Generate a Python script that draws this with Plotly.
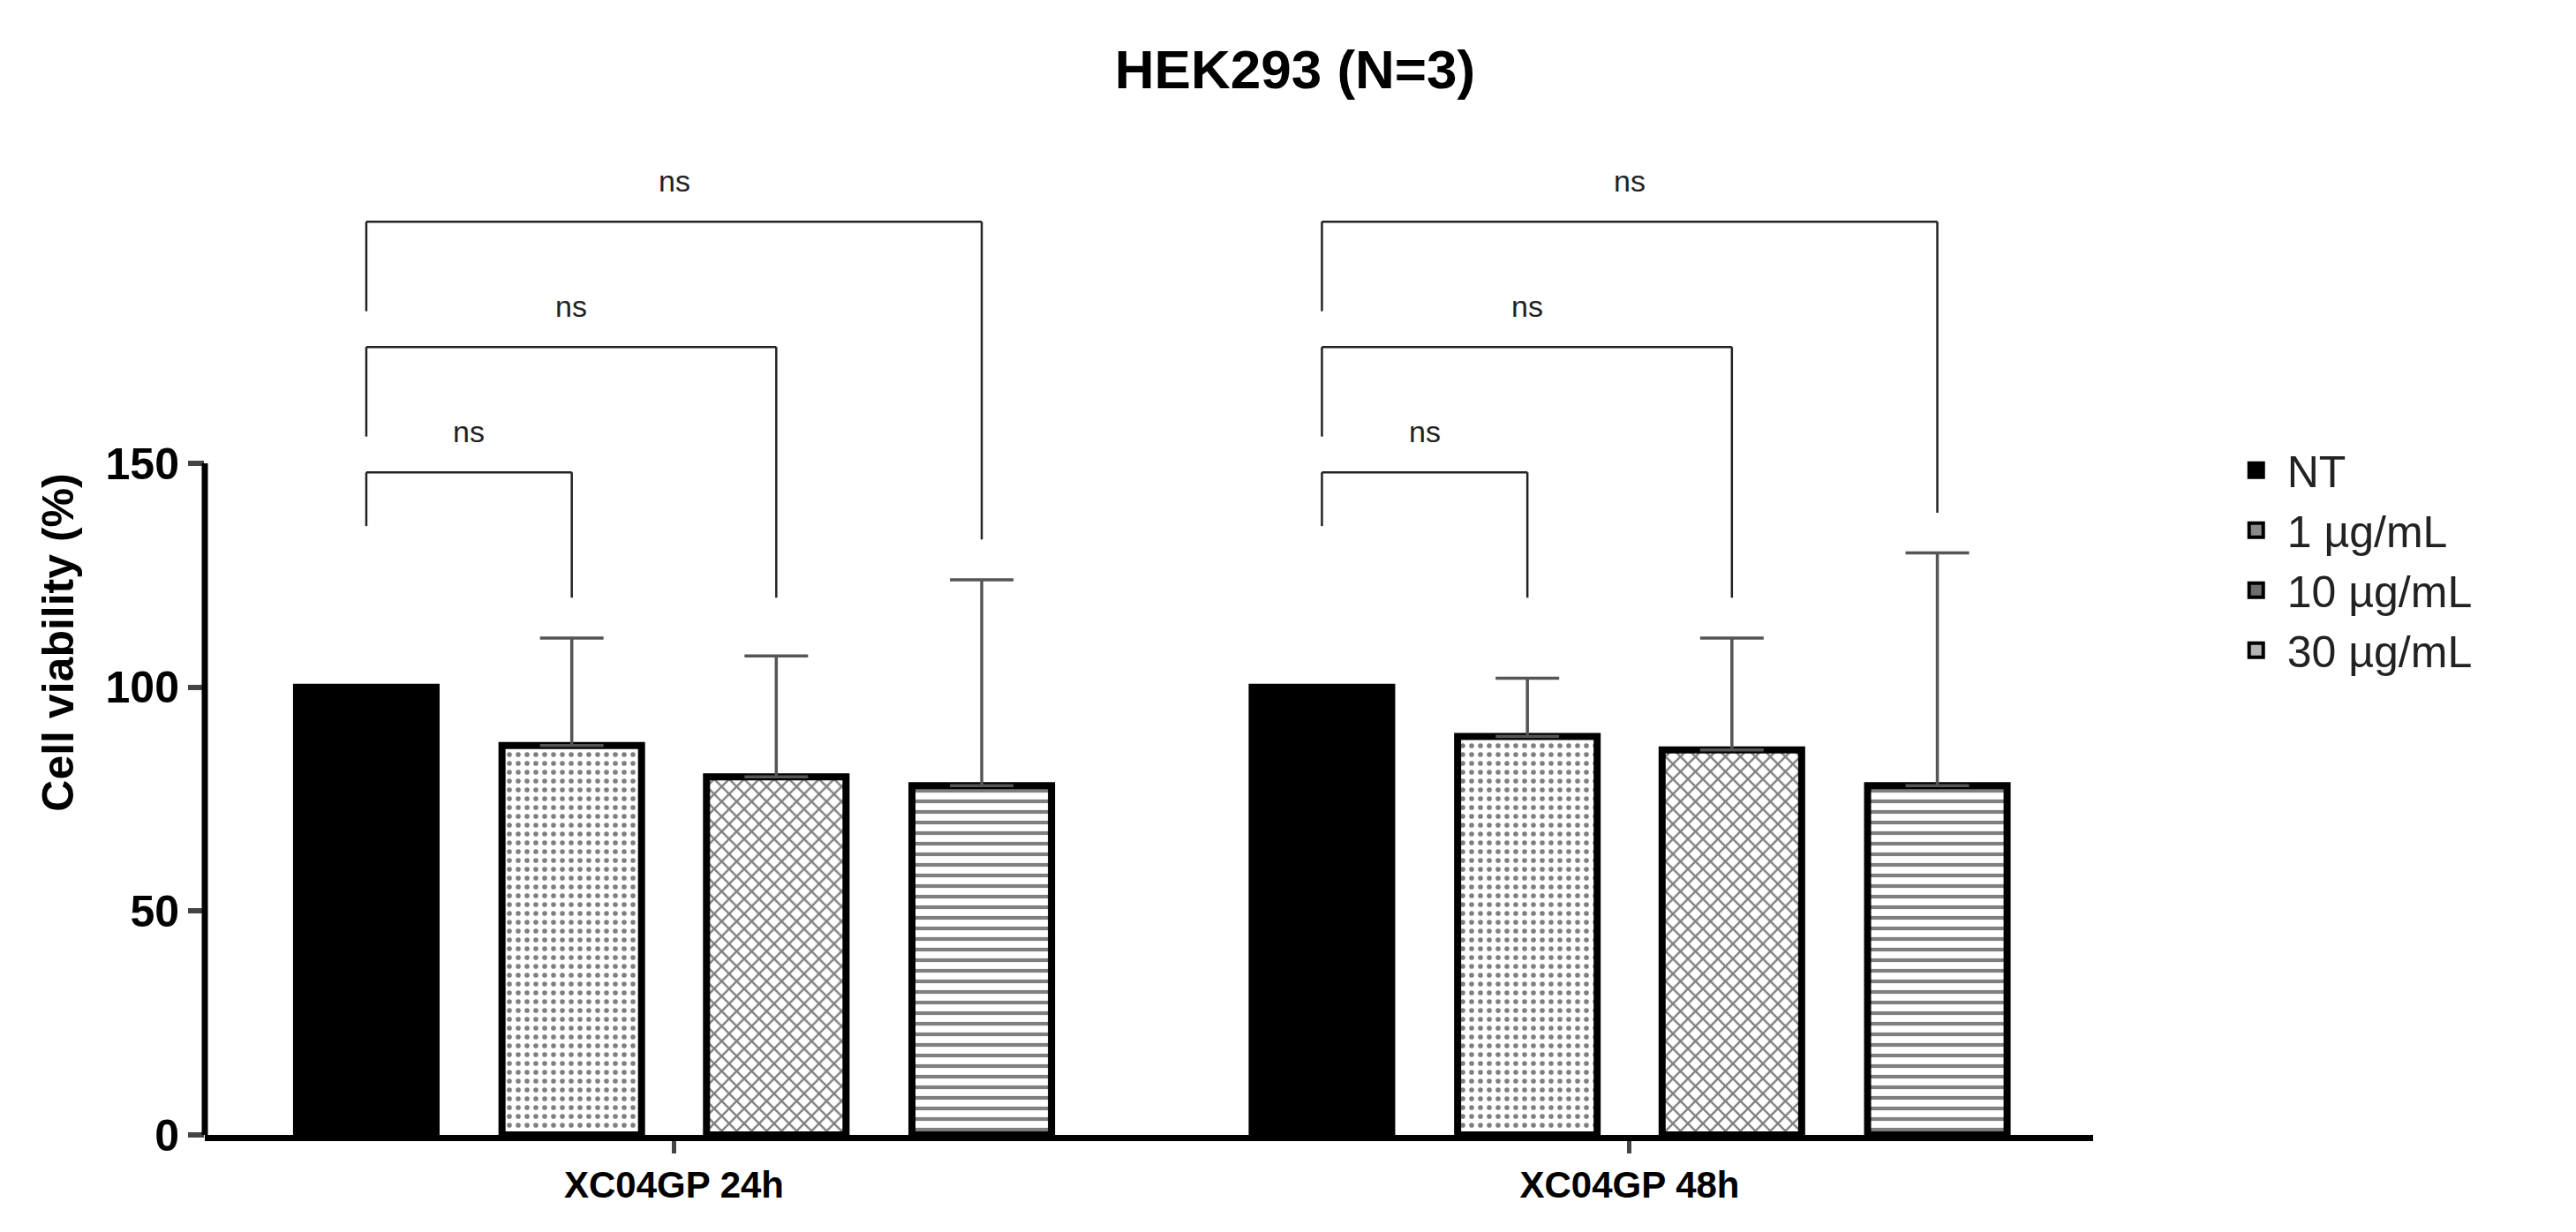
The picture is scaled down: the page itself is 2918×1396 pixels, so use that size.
import plotly.graph_objects as go

groups = ["XC04GP 24h", "XC04GP 48h"]
series = ["NT", "1 µg/mL", "10 µg/mL", "30 µg/mL"]
means = {"NT": [100, 100], "1 µg/mL": [87, 89], "10 µg/mL": [80, 86], "30 µg/mL": [78, 78]}
sds = {"NT": [0, 0], "1 µg/mL": [24, 13], "10 µg/mL": [27, 25], "30 µg/mL": [46, 52]}
legend_colors = ["black", "#8a8a8a", "#6e6e6e", "#b4b4b4"]
offsets = [-0.322, -0.107, 0.107, 0.322]
patterns = ["", ".", "x", "-"]
# brackets: (group, target index, bracket y, left leg bottom, right leg bottom)
brackets = [(0, 1, 148, 136, 120), (0, 2, 176, 156, 120), (0, 3, 204, 184, 133),
            (1, 1, 148, 136, 120), (1, 2, 176, 156, 120), (1, 3, 204, 184, 139)]

fig = go.Figure()
for i, s in enumerate(series):
    xs = [g + offsets[i] for g in range(len(groups))]
    fig.add_trace(go.Bar(
        x=xs, y=means[s], name=s, width=0.146, showlegend=False,
        marker=dict(color="black" if i == 0 else "white",
                    line=dict(color="black", width=8),
                    pattern=dict(shape=patterns[i], fgcolor="black", bgcolor="white",
                                 size=10 if i == 1 else 12, solidity=0.25 if i == 1 else 0.35)),
        error_y=dict(type="data", array=sds[s], arrayminus=[0, 0], symmetric=False,
                     color="#555555", thickness=3.5, width=36, visible=i > 0),
    ))
for i, s in enumerate(series):
    fig.add_trace(go.Scatter(
        x=[None], y=[None], mode="markers", name=s,
        marker=dict(symbol="square", size=36, color=legend_colors[i],
                    line=dict(color="black", width=4)),
    ))

shapes = [dict(type="line", xref="paper", yref="y", x0=0, x1=0, y0=0, y1=150,
               line=dict(color="black", width=7))]
annotations = []
for g, t, yb, l0, r0 in brackets:
    xl = g + offsets[0]
    xr = g + offsets[t]
    for (a, b, c, d) in [(xl, l0, xl, yb), (xl, yb, xr, yb), (xr, yb, xr, r0)]:
        shapes.append(dict(type="line", xref="x", yref="y", x0=a, y0=b, x1=c, y1=d,
                           line=dict(color="#222222", width=2.5)))
    annotations.append(dict(x=(xl + xr) / 2, y=yb + 5, xref="x", yref="y", text="ns",
                            showarrow=False, yanchor="bottom",
                            font=dict(size=34, color="#222222")))

fig.update_layout(
    width=2918, height=1396, paper_bgcolor="white", plot_bgcolor="white",
    margin=dict(l=224, r=555, t=162, b=118),
    font=dict(family="Liberation Sans, Arial", color="black"),
    title=dict(text="<b>HEK293 (N=3)</b>", x=0.5, xanchor="center", y=0.965,
               font=dict(size=62)),
    showlegend=True,
    legend=dict(x=1.07, y=0.71, yanchor="top", font=dict(size=50, color="#222222"),
                tracegroupgap=10, itemwidth=60),
    shapes=shapes, annotations=annotations,
    xaxis=dict(range=[-0.491, 1.485], tickvals=[0, 1], ticktext=["<b>%s</b>" % g for g in groups],
               showline=True, linecolor="black", linewidth=7, ticks="outside",
               ticklen=14, tickwidth=5, tickfont=dict(size=42), showgrid=False, zeroline=False),
    yaxis=dict(range=[0, 220], tickvals=[0, 50, 100, 150], ticktext=["<b>0</b>", "<b>50</b>", "<b>100</b>", "<b>150</b>"],
               showline=False, ticks="outside", ticklen=18, tickwidth=6, tickfont=dict(size=50),
               title=dict(text="<b>Cell viability (%)</b>", font=dict(size=50), standoff=20),
               showgrid=False, zeroline=False),
)
fig.write_html("out.html")
